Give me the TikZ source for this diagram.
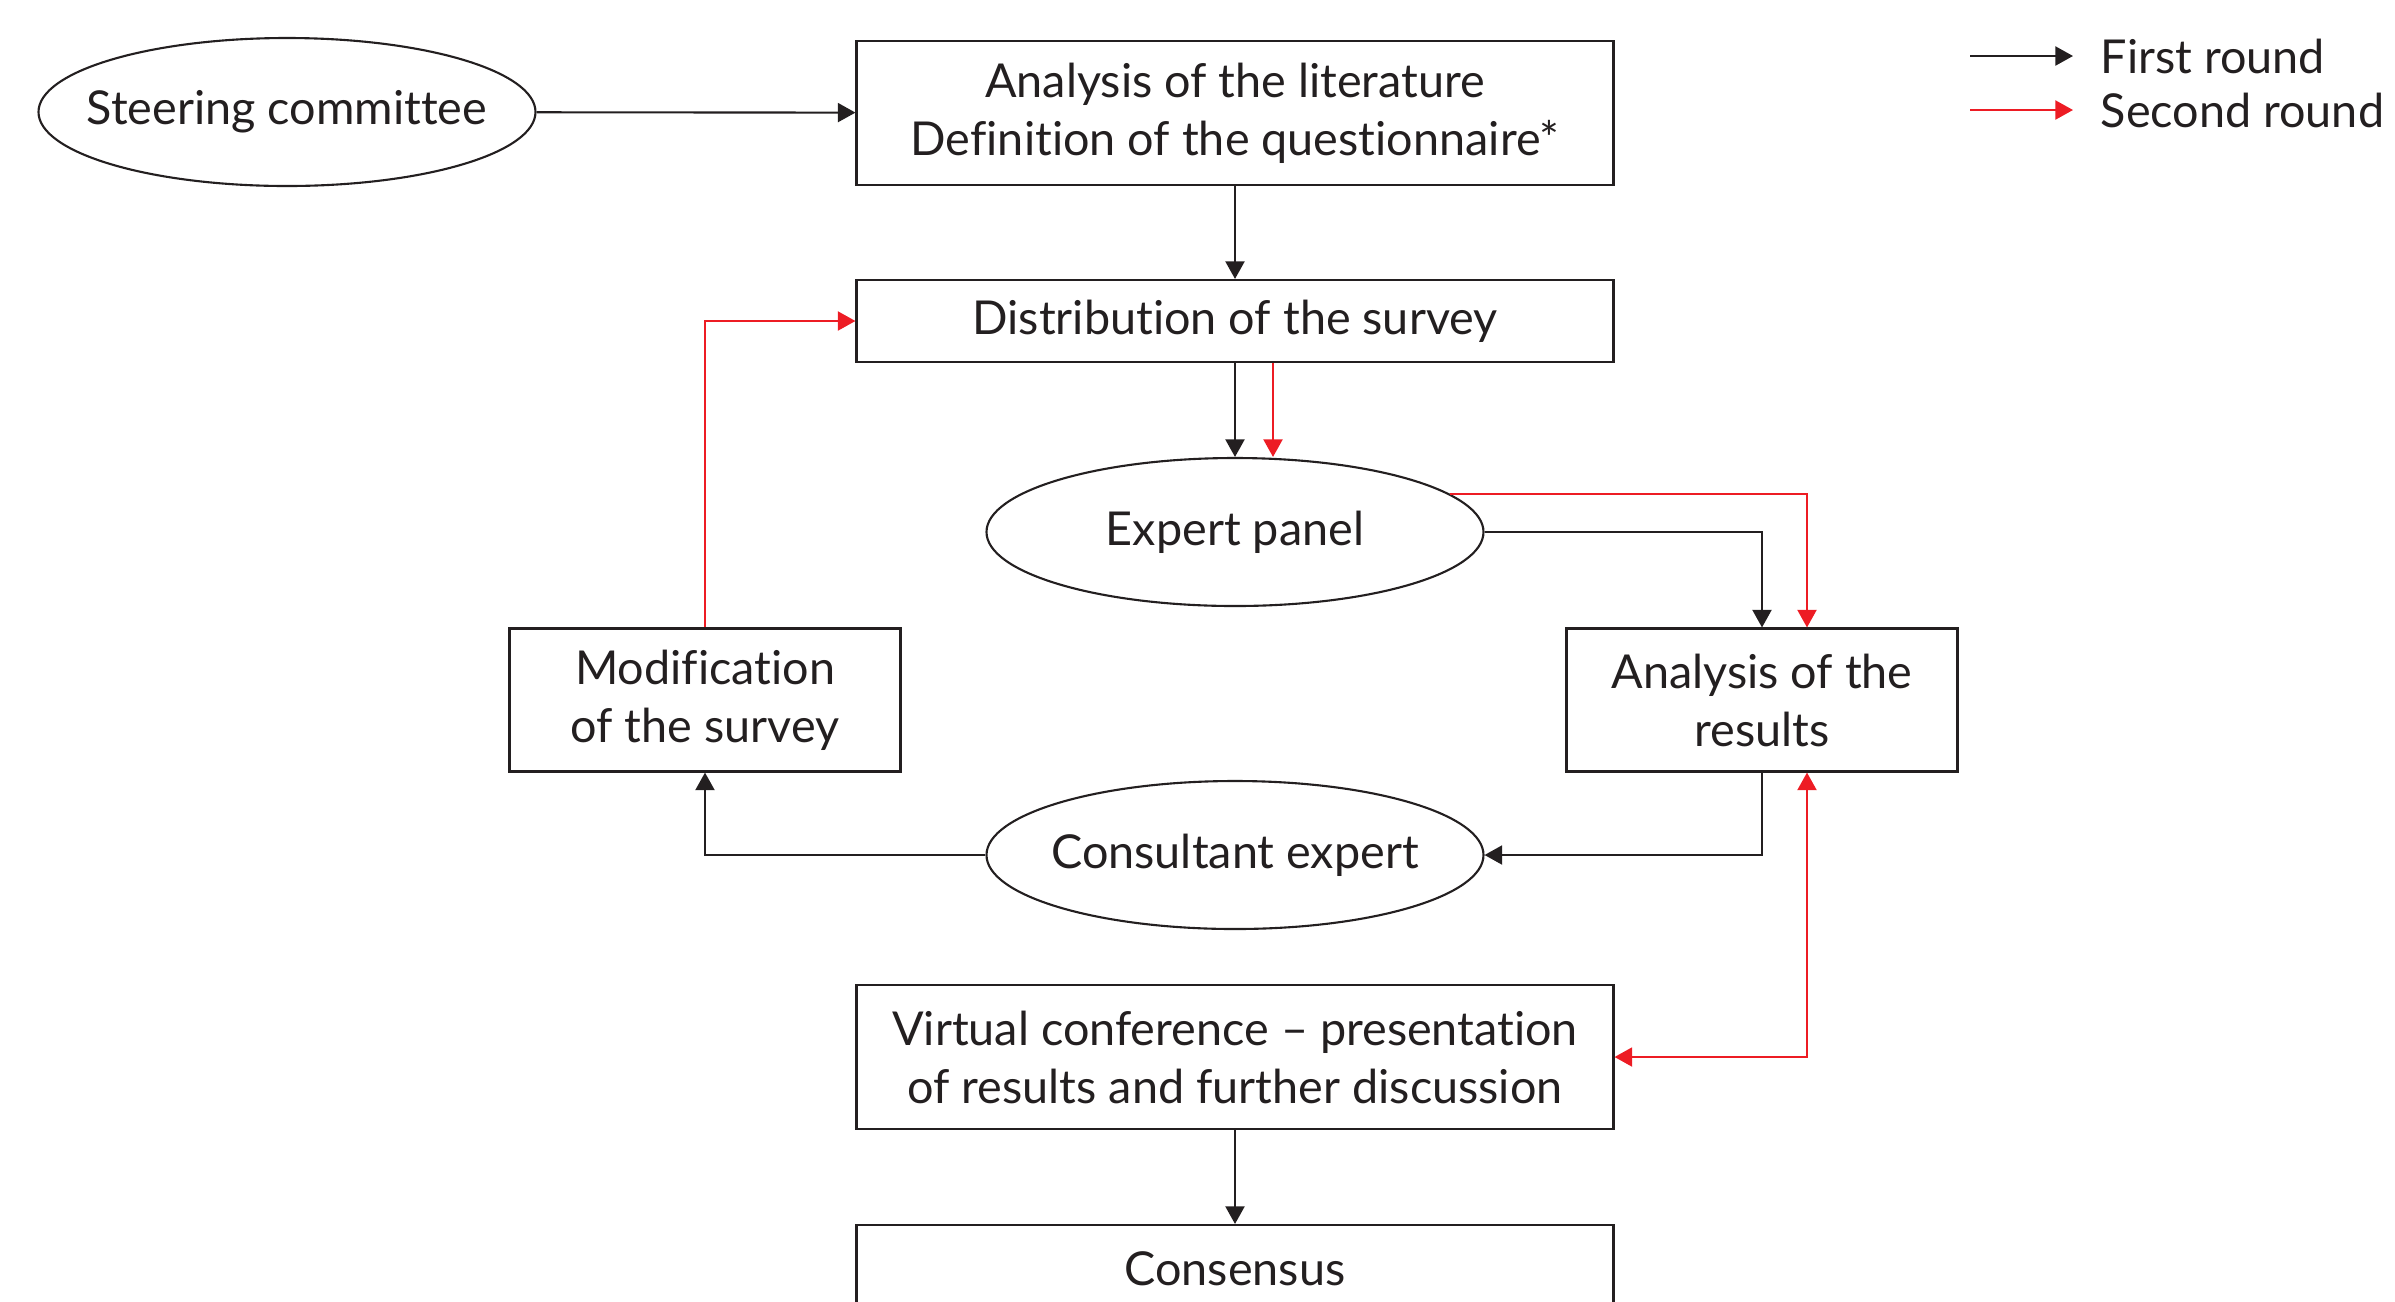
\documentclass[tikz,border=0pt]{standalone}
\usepackage{fontspec}
\setmainfont{Lato}[Ligatures=NoCommon]
\usetikzlibrary{arrows.meta, shapes.geometric}

\definecolor{inkdark}{RGB}{35,31,32}
\definecolor{roundred}{RGB}{237,28,36}

\tikzset{
    box/.style={rectangle, draw=inkdark, line width=0.6pt, text=inkdark, align=center,
        minimum width=7.57cm, font=\fontsize{13.3}{16.5}\selectfont},
    oval/.style={ellipse, draw=inkdark, line width=0.6pt, text=inkdark, inner xsep=-1cm, inner ysep=0pt,
        minimum width=4.97cm, minimum height=1.48cm, font=\fontsize{13.3}{16.5}\selectfont},
    first/.style={draw=inkdark, line width=0.6pt, -{Triangle[length=5pt, width=5.4pt]}},
    second/.style={draw=roundred, line width=0.6pt, -{Triangle[length=5pt, width=5.4pt]}}
}

\begin{document}
\begin{tikzpicture}
        \useasboundingbox (0,0) rectangle (23.95,-13.01);

        % Nodes
        \node (steer) [oval] at (2.87, -1.12) {Steering committee};
        \node (lit) [box, minimum height=1.44cm] at (12.35, -1.13) {Analysis of the literature\\Definition of the questionnaire*};
        \node (dist) [box, minimum height=0.82cm] at (12.35, -3.21) {Distribution of the survey};
        \node (panel) [oval] at (12.35, -5.32) {Expert panel};
        \node (modif) [box, minimum width=3.91cm, minimum height=1.43cm] at (7.05, -7.0) {Modification\\of the survey};
        \node (results) [box, minimum width=3.91cm, minimum height=1.43cm] at (17.62, -7.0) {Analysis of the\\results};
        \node (consult) [oval] at (12.35, -8.55) {Consultant expert};
        \node (virtual) [box, minimum height=1.44cm] at (12.35, -10.57) {Virtual conference -- presentation\\of results and further discussion};
        \node (consensus) [box, minimum height=0.88cm] at (12.35, -12.69) {Consensus};

        % Legend
        \coordinate (k1) at (19.70, -0.56);
        \coordinate (k2) at (19.70, -1.10);
        \node (firstlbl) [anchor=west, inner sep=0pt, text=inkdark, font=\fontsize{13.3}{16.5}\selectfont] at (21.0, -0.56) {First round};
        \node (secondlbl) [anchor=west, inner sep=0pt, text=inkdark, font=\fontsize{13.3}{16.5}\selectfont] at (21.0, -1.10) {Second round};
        \draw[first] (k1) -- ([xshift=-0.27cm]firstlbl.west);
        \draw[second] (k2) -- ([xshift=-0.27cm]secondlbl.west);

        % Edges
        \draw[first] (steer) -- (lit);
        \draw[first] (lit) -- (dist);
        \draw[first] (dist) -- (panel);
        \draw[second] ([xshift=3.8mm]dist.south) -- ([xshift=3.8mm]dist.south |- panel.north);
        \draw[first] (panel.east) -| (results.north);
        \draw[second] (panel.10) -| ([xshift=4.5mm]results.north);
        \draw[first] (results.south) |- (consult.east);
        \draw[first] (consult.west) -| (modif.south);
        \draw[second] (modif.north) |- (dist.west);
        \draw[second, {Triangle[length=5pt, width=5.4pt]}-{Triangle[length=5pt, width=5.4pt]}] ([xshift=4.5mm]results.south) |- (virtual.east);
        \draw[first] (virtual) -- (consensus);

    \end{tikzpicture}
\end{document}
